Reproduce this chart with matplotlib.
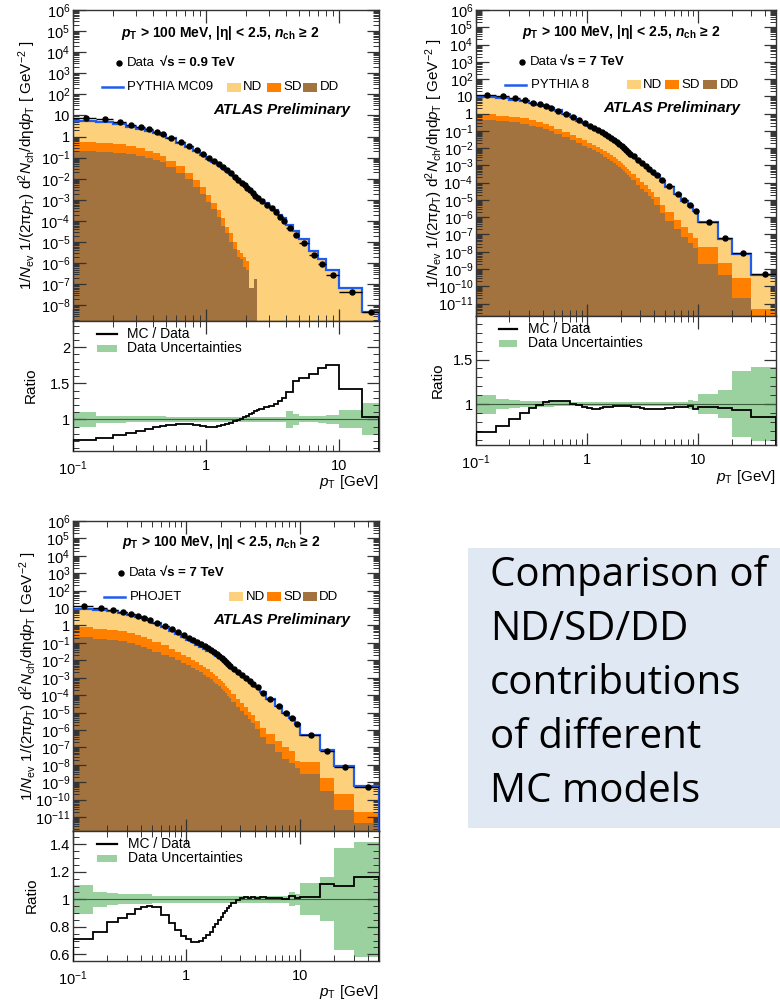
import numpy as np
import matplotlib
matplotlib.use("Agg")
import matplotlib.pyplot as plt
from matplotlib.patches import Rectangle
from matplotlib.ticker import LogLocator, FuncFormatter, NullFormatter, MultipleLocator

plt.rcParams['font.family'] = ['Liberation Sans', 'DejaVu Sans']
plt.rcParams['mathtext.fontset'] = 'custom'
plt.rcParams['mathtext.rm'] = 'Liberation Sans'
plt.rcParams['mathtext.it'] = 'Liberation Sans:italic'
plt.rcParams['mathtext.bf'] = 'Liberation Sans:bold:italic'
plt.rcParams['mathtext.sf'] = 'Liberation Sans:bold'

# ---------------- data ----------------
edges_09 = [0.1, 0.15, 0.2, 0.25, 0.3, 0.35, 0.4, 0.45, 0.5, 0.6, 0.7, 0.8, 0.9, 1.0,
            1.1, 1.2, 1.3, 1.4, 1.5, 1.6, 1.7, 1.8, 1.9, 2.0, 2.1, 2.2, 2.3, 2.4, 2.5,
            2.75, 3.0, 3.25, 3.5, 3.75, 4.0, 4.5, 5.0, 6.0, 7.0, 8.0, 10.0, 15.0, 20.0]
edges_7 = [0.1, 0.15, 0.2, 0.25, 0.3, 0.35, 0.4, 0.45, 0.5, 0.6, 0.7, 0.8, 0.9, 1.0,
           1.1, 1.2, 1.3, 1.4, 1.5, 1.6, 1.7, 1.8, 1.9, 2.0, 2.1, 2.2, 2.3, 2.4, 2.5,
           2.75, 3.0, 3.25, 3.5, 3.75, 4.0, 4.5, 5.0, 6.0, 7.0, 8.0, 9.0, 10.0, 15.0, 20.0,
           30.0, 50.0]

data_09 = [7.9, 6.6, 4.9, 3.7, 2.75, 2.2, 1.65, 1.28, 0.89, 0.555, 0.35, 0.232, 0.153,
           0.10, 0.072, 0.050, 0.036, 0.026, 0.018, 0.0128, 0.0090, 0.0066, 0.0049, 0.0037,
           0.0028, 0.0021, 0.0016, 0.0012,
           8.5e-4, 6.0e-4, 4.0e-4, 2.6e-4, 1.6e-4, 1.05e-4,
           4.7e-5, 2.2e-5,
           8.7e-6, 2.45e-6, 9.3e-7, 2.7e-7,
           4.5e-8, 4.7e-9]
ratio_mc09 = [0.713, 0.74, 0.778, 0.806, 0.833, 0.866, 0.889, 0.907, 0.926, 0.94, 0.935, 0.917, 0.903,
              0.894, 0.894, 0.903, 0.917, 0.935, 0.954, 0.972, 0.99, 1.01, 1.028, 1.05, 1.07, 1.09, 1.11, 1.125,
              1.15, 1.165, 1.18, 1.21, 1.255, 1.29,
              1.38, 1.528,
              1.58, 1.63, 1.71, 1.75,
              1.417, 1.037]
unc_09 = [0.10, 0.05, 0.045, 0.04, 0.04, 0.04, 0.04, 0.04, 0.035, 0.035, 0.035, 0.035, 0.035,
          0.035, 0.035, 0.035, 0.035, 0.035, 0.035, 0.035, 0.035, 0.035, 0.035, 0.035, 0.035, 0.035, 0.035, 0.035,
          0.035, 0.035, 0.035, 0.035, 0.035, 0.035,
          0.12, 0.08,
          0.04, 0.04, 0.05, 0.06,
          0.127, 0.22]
sd_mc09 = [0.36, 0.32, 0.28, 0.22, 0.16, 0.11, 0.082, 0.06, 0.035, 0.0215, 0.0095, 0.0046, 0.0021,
           8.7e-4, 3.8e-4, 1.8e-4, 7.5e-5, 2.8e-5, 1.55e-5, 5.9e-6, 2.2e-6, 1.5e-6, 1.3e-6, 8e-7, 0, 0, 0, 0,
           0, 0, 0, 0, 0, 0,
           0, 0,
           0, 0, 0, 0,
           0, 0]
dd_mc09 = [0.21, 0.19, 0.17, 0.15, 0.12, 0.10, 0.078, 0.06, 0.037, 0.0195, 0.0095, 0.0042, 0.0019,
           8.3e-4, 3.6e-4, 1.5e-4, 6.0e-5, 2.6e-5, 1.05e-5, 4.6e-6, 2.0e-6, 1.5e-6, 6.8e-7, 4.8e-7,
           6.5e-8, 6.5e-8, 1.8e-7, 0,
           0, 0, 0, 0, 0, 0,
           0, 0,
           0, 0, 0, 0,
           0, 0]

data_7 = [12.5, 10.3, 7.9, 5.8, 4.4, 3.4, 2.7, 2.1, 1.47, 0.92, 0.60, 0.40, 0.28,
          0.20, 0.154, 0.113, 0.085, 0.065, 0.049, 0.037, 0.029, 0.022, 0.017, 0.013, 0.010,
          0.0076, 0.0059, 0.0045,
          0.0033, 0.0022, 0.0014, 9.7e-4, 6.6e-4, 4.4e-4,
          2.9e-4, 1.4e-4,
          6.1e-5, 2.3e-5, 9.4e-6, 4.8e-6, 2.3e-6,
          5.3e-7, 6.1e-8, 8.0e-9, 5.3e-10]
unc_7 = [0.107, 0.056, 0.045, 0.035, 0.035, 0.035, 0.035, 0.035, 0.027, 0.027, 0.027, 0.027, 0.027,
         0.027, 0.027, 0.027, 0.027, 0.027, 0.027, 0.027, 0.027, 0.027, 0.027, 0.027, 0.027, 0.027, 0.027, 0.027,
         0.027, 0.027, 0.027, 0.027, 0.027, 0.027,
         0.027, 0.027,
         0.027, 0.027, 0.027, 0.05, 0.04,
         0.115, 0.16, 0.37, 0.42]

ratio_py8 = [0.69, 0.756, 0.83, 0.90, 0.955, 0.99, 1.02, 1.034, 1.04, 1.03, 1.004, 0.985, 0.966,
             0.955, 0.95, 0.95, 0.96, 0.962, 0.966, 0.97, 0.974, 0.977, 0.977, 0.98, 0.98, 0.98, 0.977, 0.974,
             0.97, 0.962, 0.955, 0.95, 0.947, 0.944,
             0.947, 0.95,
             0.96, 0.962, 0.966, 0.974, 0.944,
             0.962, 0.955, 0.936, 0.86]
sd_py8 = [0.46, 0.385, 0.33, 0.28, 0.21, 0.158, 0.116, 0.09, 0.057, 0.042, 0.026, 0.019, 0.0149,
          0.0107, 0.0084, 0.0062, 0.0048, 0.0035, 0.0027, 0.0021, 0.0016, 0.00123, 0.00091, 7.2e-4,
          5.4e-4, 4.2e-4, 3.2e-4, 2.5e-4,
          1.7e-4, 1.02e-4, 6.6e-5, 4.1e-5, 2.7e-5, 1.7e-5,
          9.2e-6, 3.35e-6,
          1.37e-6, 4.7e-7, 2.06e-7, 9.3e-8, 4.3e-8,
          1.77e-8, 1.65e-9, 2.7e-10, 4.7e-12]
dd_py8 = [0.45, 0.375, 0.31, 0.26, 0.20, 0.162, 0.124, 0.095, 0.067, 0.045, 0.030, 0.020, 0.0141,
          0.0103, 0.0076, 0.0056, 0.0043, 0.0031, 0.0024, 0.0018, 0.0014, 0.00107, 8.3e-4, 6.3e-4,
          4.8e-4, 3.7e-4, 2.8e-4, 2.2e-4,
          1.4e-4, 7.8e-5, 4.6e-5, 2.8e-5, 1.66e-5, 1.07e-5,
          4.8e-6, 1.65e-6,
          6.3e-7, 2.0e-7, 7.4e-8, 3.3e-8, 1.57e-8,
          1.95e-9, 4.5e-10, 2.0e-11, 0]

ratio_phojet = [0.712, 0.76, 0.833, 0.862, 0.893, 0.927, 0.947, 0.954, 0.942, 0.886, 0.825, 0.777, 0.733,
                0.709, 0.692, 0.69, 0.697, 0.716, 0.74, 0.765, 0.796, 0.82, 0.85, 0.874, 0.898, 0.918, 0.935, 0.952,
                0.975, 0.995, 1.01, 1.015, 1.012, 1.018,
                1.01, 1.018,
                1.008, 1.008, 1.005, 1.025, 1.012,
                1.02, 1.11, 1.10, 1.165]
sd_phojet = [0.575, 0.485, 0.40, 0.337, 0.256, 0.209, 0.158, 0.121, 0.0815, 0.052, 0.032, 0.021, 0.0138,
             0.0097, 0.0067, 0.0049, 0.0036, 0.0026, 0.0019, 0.0014, 1.05e-3, 7.6e-4, 5.7e-4, 4.1e-4,
             3.1e-4, 2.2e-4, 1.66e-4, 1.21e-4,
             7.4e-5, 4.1e-5, 2.2e-5, 1.3e-5, 7.1e-6, 4.5e-6,
             2.3e-6, 9.5e-7,
             4.3e-7, 1.65e-7, 8.5e-8, 5.4e-8, 1.1e-8,
             1.2e-8, 1.53e-9, 1.84e-10, 1.47e-11]
dd_phojet = [0.21, 0.175, 0.147, 0.123, 0.099, 0.076, 0.061, 0.047, 0.0315, 0.0212, 0.0149, 0.0105, 0.0074,
             0.0052, 0.0038, 0.0028, 0.00204, 0.0015, 0.0011, 8.1e-4, 6.0e-4, 4.4e-4, 3.2e-4, 2.36e-4,
             1.74e-4, 1.28e-4, 9.4e-5, 6.9e-5,
             4.3e-5, 2.2e-5, 1.23e-5, 6.9e-6, 4.1e-6, 2.4e-6,
             1.1e-6, 4.2e-7,
             1.58e-7, 5.5e-8, 2.1e-8, 1.23e-8, 6.3e-9,
             2.9e-9, 3.2e-10, 2.6e-11, 4.8e-12]

# ---------------- style ----------------
C_ND = '#FDD07C'
C_SD = '#FF8000'
C_DD = '#A3733F'
C_BLUE = '#1F5CF0'
C_GREEN = '#9BD09F'
FRAME = '#333333'

W, H = 780, 1002
fig = plt.figure(figsize=(W / 100, H / 100), dpi=100)


def add_ax(x0, x1, y0, y1):
    return fig.add_axes([x0 / W, 1 - y1 / H, (x1 - x0) / W, (y1 - y0) / H])


def logfmt(v, pos):
    e = int(round(np.log10(v)))
    if e == 0:
        return '1'
    if e == 1:
        return '10'
    return r'$10^{%d}$' % e


def style_frame(ax):
    for s in ax.spines.values():
        s.set_color(FRAME)
        s.set_linewidth(1.0)


def draw(panel):
    edges = np.array(panel['edges'])
    data = np.array(panel['data'])
    ratio = np.array(panel['ratio'])
    unc = np.array(panel['unc'])
    sd = np.array(panel['sd'])
    dd = np.array(panel['dd'])
    x0, x1 = panel['x']
    ytop, ymid, ybot = panel['y']
    xmax = panel['xmax']
    floor = 1e-30

    centers = 0.5 * (edges[1:] + edges[:-1])
    halfw = 0.5 * (edges[1:] - edges[:-1])
    total = data * ratio
    sddd = sd + dd

    ax = add_ax(x0, x1, ytop, ymid)
    ax.set_xscale('log')
    ax.set_yscale('log')
    ax.stairs(total, edges, baseline=floor, fill=True, color=C_ND, lw=0, zorder=1)
    ax.stairs(np.where(sddd > 0, sddd, floor), edges, baseline=floor, fill=True, color=C_SD, lw=0, zorder=1.1)
    ax.stairs(np.where(dd > 0, dd, floor), edges, baseline=floor, fill=True, color=C_DD, lw=0, zorder=1.2)
    ax.stairs(total, edges, color=C_BLUE, lw=1.6, zorder=2)
    ax.errorbar(centers, data, xerr=halfw, fmt='o', ms=3.6, color='k', mec='k',
                elinewidth=1.0, capsize=0, zorder=3)
    ax.set_xlim(0.1, xmax)
    ax.set_ylim(panel['ylo'], 1e6)
    ax.yaxis.set_major_locator(LogLocator(base=10, numticks=60))
    ax.yaxis.set_minor_locator(LogLocator(base=10, subs=np.arange(2, 10), numticks=60))
    ax.yaxis.set_major_formatter(FuncFormatter(logfmt))
    ax.yaxis.set_minor_formatter(NullFormatter())
    ax.xaxis.set_major_locator(LogLocator(base=10, numticks=20))
    ax.xaxis.set_minor_locator(LogLocator(base=10, subs=np.arange(2, 10), numticks=20))
    ax.tick_params(axis='both', which='both', direction='in', top=True, right=True,
                   colors=FRAME, labelcolor='k')
    ax.tick_params(which='major', length=9, width=0.9)
    ax.tick_params(which='minor', length=4.5, width=0.7)
    ax.tick_params(axis='x', labelbottom=False)
    ax.tick_params(axis='y', labelsize=10.5, pad=2)
    style_frame(ax)

    T = ax.transAxes
    L = panel['leg']
    ax.text(L['hx'], L['hy'],
            r'$\mathbf{p}_{\mathsf{T}}$ > 100 MeV, |η| < 2.5, $\mathbf{n}_{\mathsf{ch}}$ ≥ 2',
            transform=T, fontsize=10, fontweight='bold', ha='center', va='center')
    ax.plot([L['mx']], [L['dy']], 'o', ms=3.6, color='k', transform=T, clip_on=False, zorder=5)
    ax.text(L['mx'] + 0.025, L['dy'], 'Data', transform=T, fontsize=9.5, va='center')
    ax.text(L['sx'], L['dy'], panel['energy'], transform=T, fontsize=9.5, va='center',
            fontweight='bold')
    ax.plot([L['lx0'], L['lx1']], [L['ly'], L['ly']], color=C_BLUE, lw=1.8, transform=T, zorder=5)
    ax.text(L['lx1'] + 0.015, L['ly'], panel['mc'], transform=T, fontsize=9.5, va='center')
    pw, ph = 14 / (x1 - x0), 9 / (ymid - ytop)
    for px, col, lab in [(L['ndx'], C_ND, 'ND'), (L['sdx'], C_SD, 'SD'), (L['ddx'], C_DD, 'DD')]:
        ax.add_patch(Rectangle((px, L['ly'] - ph / 2), pw, ph, transform=T, color=col, lw=0, zorder=5))
        ax.text(px + pw + 0.008, L['ly'], lab, transform=T, fontsize=9.5, va='center')
    ax.text(L['ax'], L['ay'], 'ATLAS Preliminary', transform=T, fontsize=11,
            fontweight='bold', fontstyle='italic', ha='right', va='center')

    # ratio panel
    rx = add_ax(x0, x1, ymid, ybot)
    rx.set_xscale('log')
    rx.stairs(1 + unc, edges, baseline=1 - unc, fill=True, color=C_GREEN, lw=0, zorder=1)
    rx.axhline(1, color='#3d5f3d', lw=0.8, zorder=2)
    rx.stairs(ratio, edges, color='k', lw=1.3, zorder=3)
    rx.set_xlim(0.1, xmax)
    rx.set_ylim(*panel['rylim'])
    rx.yaxis.set_major_locator(MultipleLocator(panel['rmaj']))
    rx.yaxis.set_minor_locator(MultipleLocator(panel['rmin']))
    rx.yaxis.set_major_formatter(FuncFormatter(lambda v, p: ('%g' % round(v, 3))))
    rx.xaxis.set_major_locator(LogLocator(base=10, numticks=20))
    rx.xaxis.set_minor_locator(LogLocator(base=10, subs=np.arange(2, 10), numticks=20))
    rx.xaxis.set_major_formatter(FuncFormatter(logfmt))
    rx.xaxis.set_minor_formatter(NullFormatter())
    rx.tick_params(axis='both', which='both', direction='in', top=True, right=True,
                   colors=FRAME, labelcolor='k')
    rx.tick_params(which='major', length=9, width=0.9)
    rx.tick_params(which='minor', length=4.5, width=0.7)
    rx.tick_params(axis='y', labelsize=10.5, pad=2)
    rx.tick_params(axis='x', labelsize=10.5, pad=6)
    style_frame(rx)
    RT = rx.transAxes
    R = panel['rleg']
    hh = (ybot - ymid)
    rx.plot([R['x0'], R['x1']], [R['y1'], R['y1']], color='k', lw=1.6, transform=RT)
    rx.text(R['tx'], R['y1'], 'MC / Data', transform=RT, fontsize=10, va='center')
    rx.add_patch(Rectangle((R['x0'], R['y2'] - 3.5 / hh), R['x1'] - R['x0'], 7 / hh,
                           transform=RT, color=C_GREEN, lw=0))
    rx.text(R['tx'], R['y2'], 'Data Uncertainties', transform=RT, fontsize=10, va='center')

    # axis titles
    fig.text(panel['ylab_x'] / W, 1 - 0.5 * (ytop + ymid) / H,
             r'1/$N_{\mathrm{ev}}$ 1/(2π$p_{\mathrm{T}}$) d$^{2}$$N_{\mathrm{ch}}$/dηd$p_{\mathrm{T}}$ [ GeV$^{-2}$ ]',
             rotation=90, ha='center', va='center', fontsize=11)
    fig.text(panel['ylab_x'] / W + 4 / W, 1 - panel['ratio_lab_y'] / H, 'Ratio', rotation=90,
             ha='center', va='center', fontsize=11)
    fig.text(x1 / W, 1 - panel['xlab_y'] / H, r'$p_{\mathrm{T}}$ [GeV]', ha='right', va='center',
             fontsize=11)


panels = [
    dict(edges=edges_09, data=data_09, ratio=ratio_mc09, unc=unc_09, sd=sd_mc09, dd=dd_mc09,
         x=(73, 379), y=(10, 321, 451), xmax=20.0, ylo=10 ** -8.74, rylim=(0.56, 2.365),
         rmaj=0.5, rmin=0.1, energy='√s = 0.9 TeV', mc='PYTHIA MC09',
         leg=dict(hx=0.48, hy=0.926, mx=0.150, dy=0.83, sx=0.284, lx0=0.095, lx1=0.163, ly=0.752,
                  ndx=0.502, sdx=0.633, ddx=0.753, ax=0.905, ay=0.678),
         rleg=dict(x0=0.078, x1=0.144, tx=0.176, y1=0.90, y2=0.79),
         ylab_x=27, ratio_lab_y=385, xlab_y=482),
    dict(edges=edges_7, data=data_7, ratio=ratio_py8, unc=unc_7, sd=sd_py8, dd=dd_py8,
         x=(476, 776), y=(10, 316, 445), xmax=50.0, ylo=10 ** -11.72, rylim=(0.54, 1.99),
         rmaj=0.5, rmin=0.1, energy='√s = 7 TeV', mc='PYTHIA 8',
         leg=dict(hx=0.484, hy=0.928, mx=0.154, dy=0.83, sx=0.28, lx0=0.097, lx1=0.167, ly=0.755,
                  ndx=0.503, sdx=0.631, ddx=0.758, ax=0.881, ay=0.68),
         rleg=dict(x0=0.077, x1=0.137, tx=0.174, y1=0.897, y2=0.788),
         ylab_x=434, ratio_lab_y=380, xlab_y=477),
    dict(edges=edges_7, data=data_7, ratio=ratio_phojet, unc=unc_7, sd=sd_phojet, dd=dd_phojet,
         x=(73, 379), y=(521, 831, 961), xmax=50.0, ylo=10 ** -11.8, rylim=(0.551, 1.497),
         rmaj=0.2, rmin=0.05, energy='√s = 7 TeV', mc='PHOJET',
         leg=dict(hx=0.484, hy=0.933, mx=0.157, dy=0.832, sx=0.284, lx0=0.101, lx1=0.17, ly=0.756,
                  ndx=0.51, sdx=0.634, ddx=0.75, ax=0.905, ay=0.68),
         rleg=dict(x0=0.08, x1=0.143, tx=0.179, y1=0.90, y2=0.79),
         ylab_x=28, ratio_lab_y=895, xlab_y=992),
]

for p in panels:
    draw(p)

# text box
fig.patches.append(Rectangle((468 / W, 1 - 828 / H), (780 - 468) / W, (828 - 548) / H,
                             transform=fig.transFigure, color='#DFE8F3', lw=0, zorder=0))
box_lines = ['Comparison of', 'ND/SD/DD', 'contributions', 'of different', 'MC models']
for i, t in enumerate(box_lines):
    fig.text(490 / W, 1 - (576 + 54 * i) / H, t, fontsize=29, family=['Open Sans', 'DejaVu Sans'],
             ha='left', va='center', color='black')

fig.savefig('out.png', dpi=100)
